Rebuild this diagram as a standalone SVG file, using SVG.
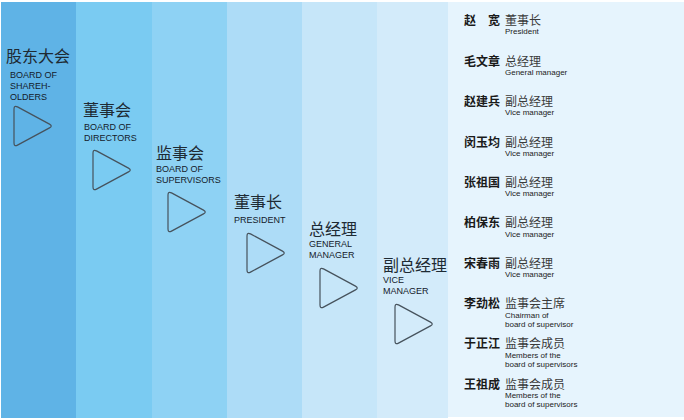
<svg xmlns="http://www.w3.org/2000/svg" width="684" height="420" viewBox="0 0 684 420">
<style>
.zh{font-family:"Noto Sans CJK SC","Noto Sans",sans-serif;font-size:16px;fill:#1e2a33}
.en{font-family:"Liberation Sans",Arial,sans-serif;font-size:9px;fill:#14202a}
.tri{fill:none;stroke:#46525c;stroke-width:1.2;stroke-linejoin:round}
.nm{font-family:"Noto Sans CJK SC",sans-serif;font-size:12px;font-weight:bold;fill:#1a1a1a}
.tt{font-family:"Noto Sans CJK SC",sans-serif;font-size:12px;fill:#3a3a3a}
.sb{font-family:"Liberation Sans",Arial,sans-serif;font-size:8px;fill:#222}
</style>
<defs>
<path id="tri" class="tri" d="M0,4 Q0,0 3.5,1.9 L35.5,19.1 Q39,21 35.5,22.9 L3.5,40.1 Q0,42 0,38 Z"/>
</defs>
<rect width="684" height="420" fill="#ffffff"/>
<g id="columns">
<rect x="1" y="2" width="75" height="416" fill="#5fb3e6"/>
<rect x="76" y="2" width="76" height="416" fill="#7acbf2"/>
<rect x="152" y="2" width="75" height="416" fill="#8ed2f4"/>
<rect x="227" y="2" width="75" height="416" fill="#addcf7"/>
<rect x="302" y="2" width="75" height="416" fill="#c6e6f9"/>
<rect x="377" y="2" width="71" height="416" fill="#d3ebfa"/>
<rect x="448" y="2" width="236" height="415" fill="#e6f4fd"/>
</g>
<g id="connectors"></g>
<g id="node-shareholders">
<text class="zh" x="6" y="62">股东大会</text>
<text class="en" x="10" y="78">BOARD OF</text>
<text class="en" x="10" y="89">SHAREH-</text>
<text class="en" x="10" y="100">OLDERS</text>
<use href="#tri" x="14" y="105"/>
</g>
<g id="node-directors">
<text class="zh" x="83" y="116">董事会</text>
<text class="en" x="84" y="130">BOARD OF</text>
<text class="en" x="84" y="141">DIRECTORS</text>
<use href="#tri" x="93" y="149"/>
</g>
<g id="node-supervisors">
<text class="zh" x="156" y="159">监事会</text>
<text class="en" x="156" y="172">BOARD OF</text>
<text class="en" x="156" y="183">SUPERVISORS</text>
<use href="#tri" x="168" y="191"/>
</g>
<g id="node-president">
<text class="zh" x="234" y="208">董事长</text>
<text class="en" x="234" y="223">PRESIDENT</text>
<use href="#tri" x="247" y="232"/>
</g>
<g id="node-general-manager">
<text class="zh" x="309" y="235">总经理</text>
<text class="en" x="309" y="247">GENERAL</text>
<text class="en" x="309" y="258">MANAGER</text>
<use href="#tri" x="320" y="267"/>
</g>
<g id="node-vice-manager">
<text class="zh" x="383" y="271">副总经理</text>
<text class="en" x="383" y="283">VICE</text>
<text class="en" x="383" y="294">MANAGER</text>
<use href="#tri" x="395" y="303"/>
</g>
<g id="node-members">
<text class="nm" x="464" y="25">赵<tspan x="488">宽</tspan></text>
<text class="tt" x="505" y="25">董事长</text>
<text class="sb" x="505" y="34">President</text>
<text class="nm" x="464" y="66">毛文章</text>
<text class="tt" x="505" y="66">总经理</text>
<text class="sb" x="505" y="75">General manager</text>
<text class="nm" x="464" y="106">赵建兵</text>
<text class="tt" x="505" y="106">副总经理</text>
<text class="sb" x="505" y="115">Vice manager</text>
<text class="nm" x="464" y="147">闵玉均</text>
<text class="tt" x="505" y="147">副总经理</text>
<text class="sb" x="505" y="156">Vice manager</text>
<text class="nm" x="464" y="187">张祖国</text>
<text class="tt" x="505" y="187">副总经理</text>
<text class="sb" x="505" y="196">Vice manager</text>
<text class="nm" x="464" y="227">柏保东</text>
<text class="tt" x="505" y="227">副总经理</text>
<text class="sb" x="505" y="237">Vice manager</text>
<text class="nm" x="464" y="268">宋春雨</text>
<text class="tt" x="505" y="268">副总经理</text>
<text class="sb" x="505" y="277">Vice manager</text>
<text class="nm" x="464" y="308">李劲松</text>
<text class="tt" x="505" y="308">监事会主席</text>
<text class="sb" x="505" y="318">Chairman of</text>
<text class="sb" x="505" y="327">board of supervisor</text>
<text class="nm" x="464" y="348">于正江</text>
<text class="tt" x="505" y="348">监事会成员</text>
<text class="sb" x="505" y="358">Members of the</text>
<text class="sb" x="505" y="367">board of supervisors</text>
<text class="nm" x="464" y="389">王祖成</text>
<text class="tt" x="505" y="389">监事会成员</text>
<text class="sb" x="505" y="398">Members of the</text>
<text class="sb" x="505" y="407">board of supervisors</text>
</g>
</svg>
